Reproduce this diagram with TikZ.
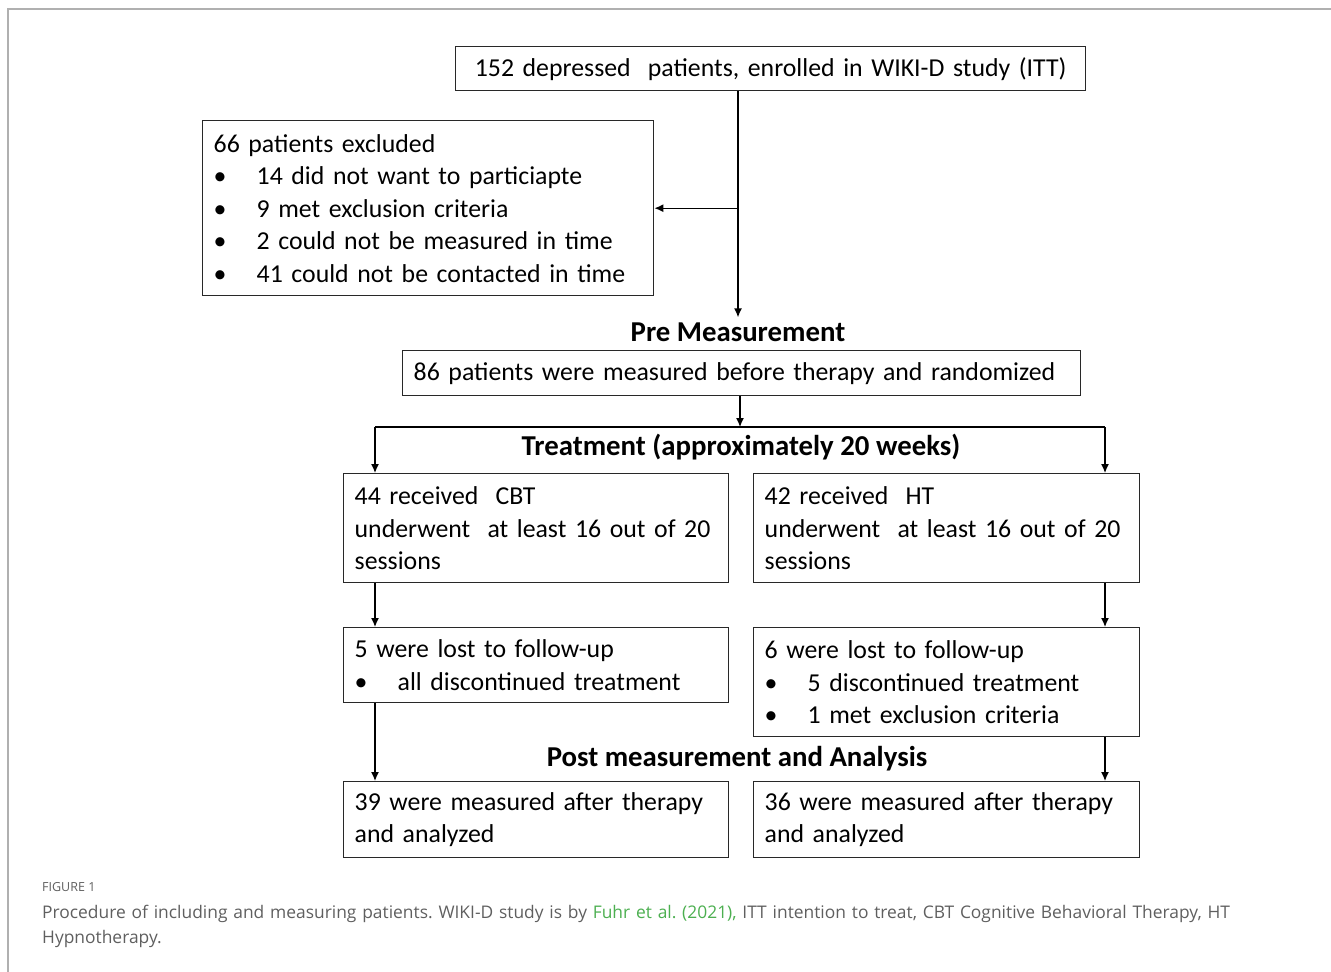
\documentclass[tikz,border=0pt]{standalone}
\usepackage{fontspec}
\setmainfont{Carlito}
\newfontfamily\capfont{Open Sans}
\usetikzlibrary{arrows.meta}
\frenchspacing
\definecolor{framegray}{RGB}{176,176,176}
\definecolor{capgray}{RGB}{95,95,95}
\definecolor{linkgreen}{RGB}{76,175,80}
\definecolor{boxline}{RGB}{40,40,40}
\newcommand\bulitem[1]{\makebox[43pt][l]{\textbullet}#1}
\tikzset{
  box/.style={draw=boxline, line width=1.4pt, anchor=north west, align=left,
    inner xsep=11pt, inner ysep=0pt, font=\fontsize{25.8}{32.5}\selectfont},
  head/.style={font=\bfseries\fontsize{28.8}{32}\selectfont, inner sep=2pt},
  arr/.style={line width=1.3pt, draw=black, -{Latex[length=9pt,width=8pt]}},
  ln/.style={line width=1.3pt, draw=black},
}
\begin{document}
\begin{tikzpicture}[x=1pt,y=-1pt]
\useasboundingbox (0,0) rectangle (1331,972);
\draw[framegray, line width=2pt] (8,972) -- (8,8.5) -- (1331,8.5);

% boxes
\node[box, minimum width=630pt, minimum height=44pt, text width=608pt, align=center] (itt) at (455,46) {152 depressed\ \ patients, enrolled in WIKI-D study (ITT)};
\node[box, minimum width=451pt, minimum height=175pt, text width=429pt] (excl) at (202,120) {66 patients excluded\\
\bulitem{14 did not want to particiapte}\\
\bulitem{9 met exclusion criteria}\\
\bulitem{2 could not be measured in time}\\
\bulitem{41 could not be contacted in time}};
\node[head] (pre) at (738,332) {Pre Measurement};
\node[box, minimum width=678pt, minimum height=45pt, text width=656pt] (rand) at (402,350) {86 patients were measured before therapy and randomized};
\node[head] (treat) at (741,447) {Treatment (approximately 20 weeks)};
\coordinate (split) at (740,427);
\coordinate (sl) at (375,427);
\coordinate (sr) at (1105,427);
\node[box, minimum width=385pt, minimum height=109pt, text width=363pt] (cbt) at (343,473) {44 received\ \ CBT\\underwent\ \ at least 16 out of 20\\sessions};
\node[box, minimum width=386pt, minimum height=109pt, text width=364pt] (ht) at (753,473) {42 received\ \ HT\\underwent\ \ at least 16 out of 20\\sessions};
\node[box, minimum width=385pt, minimum height=75pt, text width=363pt] (lostl) at (343,627) {5 were lost to follow-up\\\bulitem{all discontinued treatment}};
\node[box, minimum width=386pt, minimum height=109pt, text width=364pt] (lostr) at (753,627) {6 were lost to follow-up\\\bulitem{5 discontinued treatment}\\\bulitem{1 met exclusion criteria}};
\node[head] (post) at (737,759) {Post measurement and Analysis};
\node[box, minimum width=385pt, minimum height=76pt, text width=363pt] (finl) at (343,781) {39 were measured after therapy\\and analyzed};
\node[box, minimum width=386pt, minimum height=76pt, text width=364pt] (finr) at (753,781) {36 were measured after therapy\\and analyzed};

% connectors
\draw[arr] (itt.south -| pre.north) -- ([yshift=3pt]pre.north);
\draw[arr] (excl.east -| pre.north) -- (excl.east);
\draw[arr] (rand.south -| split) -- (split);
\draw[ln] (sl) -- (sr);
\draw[arr] (sl) -- (cbt.north -| sl);
\draw[arr] (sr) -- (ht.north -| sr);
\draw[arr] (cbt.south -| sl) -- (lostl.north -| sl);
\draw[arr] (ht.south -| sr) -- (lostr.north -| sr);
\draw[arr] (lostl.south -| sl) -- (finl.north -| sl);
\draw[arr] (lostr.south -| sr) -- (finr.north -| sr);

% caption
\node[anchor=base west, inner sep=0pt, text=capgray, font=\capfont\fontsize{12.5}{15}\selectfont] (figlab) at (42,891) {FIGURE 1};
\node[anchor=north west, inner sep=0pt, text=capgray, align=left, text width=1260pt, font=\capfont\fontsize{17.4}{25}\selectfont] (cap) at (42,905) {Procedure of including and measuring patients. WIKI-D study is by \textcolor{linkgreen}{Fuhr et al. (2021),} ITT intention to treat, CBT Cognitive Behavioral Therapy, HT\\Hypnotherapy.};
\end{tikzpicture}
\end{document}
